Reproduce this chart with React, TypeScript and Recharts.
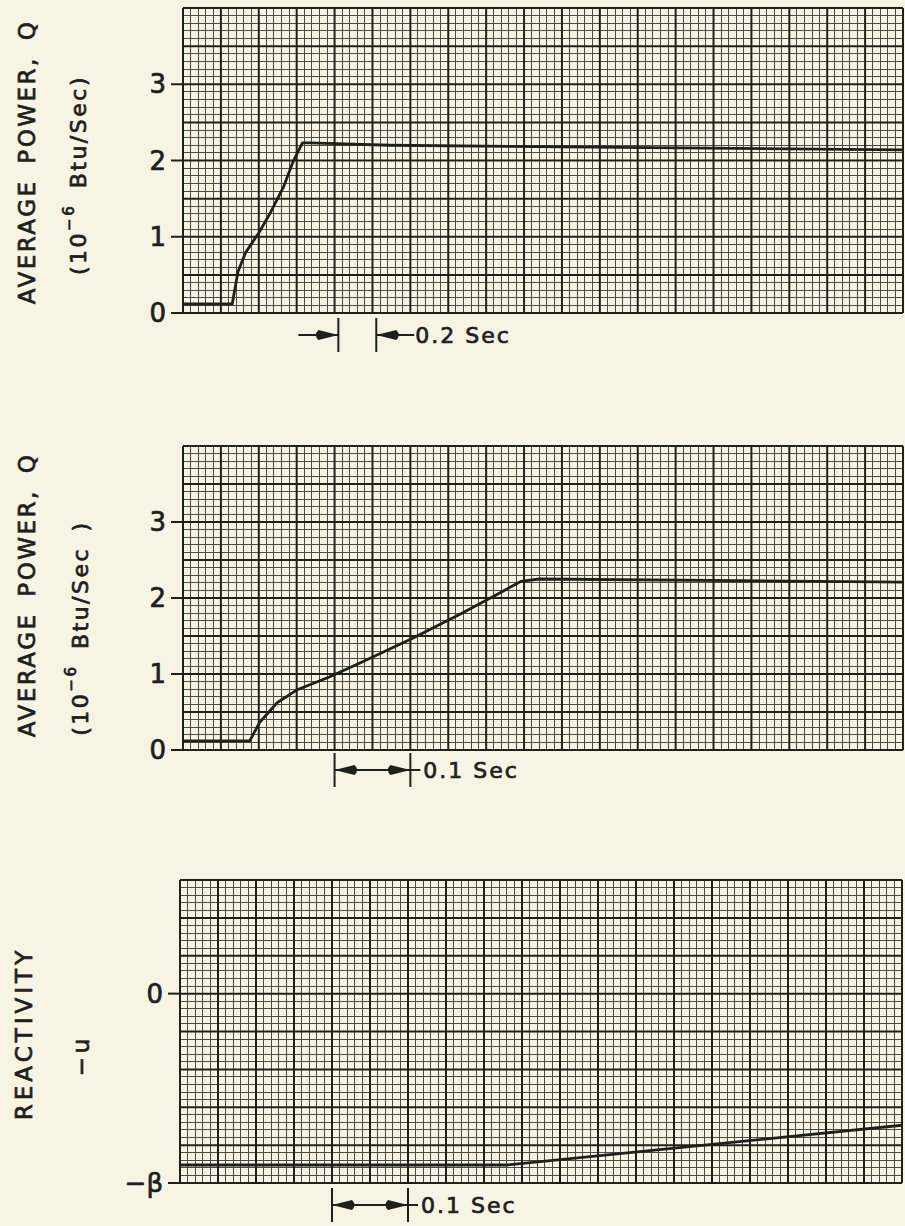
import React from 'react';
import { LineChart, Line, XAxis, YAxis, ReferenceLine, ReferenceArea } from 'recharts';

// top trace: 0.2 s per major division
const slowTime = [0, 0.26, 0.29, 0.33, 0.4, 0.46, 0.53, 0.58, 0.63, 0.67, 1.09, 2.0, 3.8];
const slowPower = [0.12, 0.12, 0.54, 0.79, 1.05, 1.31, 1.65, 1.98, 2.23, 2.23, 2.2, 2.18, 2.14];

// middle trace: 0.05 s per major division
const fastTime = [0, 0.088, 0.101, 0.124, 0.15, 0.193, 0.237, 0.303, 0.368, 0.413, 0.446, 0.47, 0.95];
const fastPower = [0.12, 0.12, 0.36, 0.62, 0.79, 0.96, 1.16, 1.47, 1.8, 2.04, 2.22, 2.25, 2.21];

// bottom trace: reactivity in units of beta
const reactTime = [0, 0.43, 0.95];
const reactValue = [-0.905, -0.905, -0.695];

const powerTicks = [0, 1, 2, 3];
const reactTicks = [-1, 0];
const slowMarker = [0.82, 1.02];
const fastMarker = [0.2, 0.3];

const PAPER = '#f7f4e3';
const INK = '#1e201b';
const MINOR = '#4a4c45';
const FONT = '"DejaVu Sans", sans-serif';
// lettering-pen look: thicken the glyphs a little
const PEN = { stroke: INK, strokeWidth: 0.7 };

const steps = (from: number, to: number, step: number) => {
  const out: number[] = [];
  const n = Math.round((to - from) / step);
  for (let i = 0; i <= n; i++) out.push(+(from + i * step).toFixed(4));
  return out;
};

const zip = (t: number[], v: number[]) => t.map((x, i) => ({ t: x, v: v[i] }));

function Head({ tip, cy, dir }: { tip: number; cy: number; dir: number }) {
  // dir = 1 points right, -1 points left
  const back = tip - dir * 20;
  return (
    <path
      d={`M${tip},${cy} L${back},${cy - 5} Q${back - dir * 5},${cy} ${back},${cy + 5} Z`}
      fill={INK}
    />
  );
}

function Bracket(props: any) {
  const { x, y, width, height, kind, text, offset } = props;
  const x1 = x;
  const x2 = x + width;
  const cy = y + height + offset;
  const half = 17;
  const common = { stroke: INK, strokeWidth: 2 };
  if (kind === 'outside') {
    return (
      <g>
        <line x1={x1 - 40} y1={cy} x2={x1} y2={cy} {...common} />
        <Head tip={x1} cy={cy} dir={1} />
        <line x1={x1} y1={cy - half} x2={x1} y2={cy + half} {...common} />
        <line x1={x2} y1={cy - half} x2={x2} y2={cy + half} {...common} />
        <line x1={x2} y1={cy} x2={x2 + 38} y2={cy} {...common} />
        <Head tip={x2} cy={cy} dir={-1} />
        <text x={x2 + 39} y={cy} dominantBaseline="central" fontSize={22} letterSpacing={2} fill={INK} fontFamily={FONT} {...PEN}>
          {text}
        </text>
      </g>
    );
  }
  return (
    <g>
      <line x1={x1} y1={cy - half} x2={x1} y2={cy + half} {...common} />
      <line x1={x2} y1={cy - half} x2={x2} y2={cy + half} {...common} />
      <line x1={x1} y1={cy} x2={x2 + 10} y2={cy} {...common} />
      <Head tip={x1} cy={cy} dir={-1} />
      <Head tip={x2} cy={cy} dir={1} />
      <text x={x2 + 13} y={cy} dominantBaseline="central" fontSize={22} letterSpacing={2} fill={INK} fontFamily={FONT} {...PEN}>
        {text}
      </text>
    </g>
  );
}

const rot = (x: number, y: number) => `rotate(-90, ${x}, ${y})`;

const powerTitle = (dy1: number, x2: number, dy2: number, tail: string) => (props: any) => {
  const vb = props.viewBox || { x: 0, y: 0, width: 0, height: 0 };
  const cy = vb.y + vb.height / 2;
  const ax = vb.x + 27;
  const ay = cy + dy1;
  const bx = vb.x + x2;
  const by = cy + dy2;
  return (
    <g fill={INK} fontFamily={FONT} {...PEN}>
      <text x={ax} y={ay} transform={rot(ax, ay)} textAnchor="middle" dominantBaseline="central"
        fontSize={23} letterSpacing={2.5} wordSpacing={6}>
        AVERAGE POWER, Q
      </text>
      <text x={bx} y={by} transform={rot(bx, by)} textAnchor="middle" dominantBaseline="central"
        fontSize={22} letterSpacing={2.5} wordSpacing={6}>
        (10<tspan dy={-9} fontSize={15}>−6</tspan>
        <tspan dy={9}>{tail}</tspan>
      </text>
    </g>
  );
};

const reactTitle = (props: any) => {
  const vb = props.viewBox || { x: 0, y: 0, width: 0, height: 0 };
  const cy = vb.y + vb.height / 2;
  const ax = vb.x + 24;
  const ay = cy + 2;
  const bx = vb.x + 81;
  const by = cy + 24;
  return (
    <g fill={INK} fontFamily={FONT} {...PEN}>
      <text x={ax} y={ay} transform={rot(ax, ay)} textAnchor="middle" dominantBaseline="central"
        fontSize={23} letterSpacing={4}>
        REACTIVITY
      </text>
      <text x={bx} y={by} transform={rot(bx, by)} textAnchor="middle" dominantBaseline="central"
        fontSize={23} letterSpacing={4}>
        −u
      </text>
    </g>
  );
};

interface PanelProps {
  data: { t: number; v: number }[];
  top: number;
  height: number;
  margin: { top: number; right: number; bottom: number; left: number };
  axisWidth: number;
  xMax: number;
  xMajor: number;
  yDomain: [number, number];
  yMajor: number;
  ticks: number[];
  tickFormatter?: (v: number) => string;
  title: (props: any) => React.ReactNode;
  marker: number[];
  markerKind: string;
  markerText: string;
  markerOffset: number;
}

function Panel(p: PanelProps) {
  const [y0, y1] = p.yDomain;
  const xMajorV = steps(0, p.xMax, p.xMajor);
  const yMajorV = steps(y0, y1, p.yMajor);
  const xMinorV = steps(0, p.xMax, p.xMajor / 5).filter((v) => !xMajorV.includes(v));
  const yMinorV = steps(y0, y1, p.yMajor / 5).filter((v) => !yMajorV.includes(v));
  return (
    <div style={{ position: 'absolute', left: 0, top: p.top }}>
      <LineChart width={905} height={p.height} data={p.data} margin={p.margin}>
        <XAxis dataKey="t" type="number" domain={[0, p.xMax]} allowDataOverflow hide />
        <YAxis
          type="number"
          domain={p.yDomain}
          allowDataOverflow
          ticks={p.ticks}
          interval={0}
          width={p.axisWidth}
          tickSize={12}
          tickMargin={5}
          tickFormatter={p.tickFormatter}
          axisLine={{ stroke: INK, strokeWidth: 2 }}
          tickLine={{ stroke: INK, strokeWidth: 2 }}
          tick={{ fill: INK, fontSize: 26, fontFamily: FONT, ...PEN }}
          label={p.title}
        />
        {xMinorV.map((v) => (
          <ReferenceLine key={`xm${v}`} x={v} stroke={MINOR} strokeWidth={1} shapeRendering="crispEdges" />
        ))}
        {yMinorV.map((v) => (
          <ReferenceLine key={`ym${v}`} y={v} stroke={MINOR} strokeWidth={1} shapeRendering="crispEdges" />
        ))}
        {xMajorV.map((v) => (
          <ReferenceLine key={`xM${v}`} x={v} stroke={INK} strokeWidth={2} />
        ))}
        {yMajorV.map((v) => (
          <ReferenceLine key={`yM${v}`} y={v} stroke={INK} strokeWidth={2} />
        ))}
        <ReferenceArea
          x1={p.marker[0]}
          x2={p.marker[1]}
          ifOverflow="visible"
          shape={(sp: any) => (
            <Bracket {...sp} kind={p.markerKind} text={p.markerText} offset={p.markerOffset} />
          )}
        />
        <Line
          type="linear"
          dataKey="v"
          stroke={INK}
          strokeWidth={2.8}
          dot={false}
          activeDot={false}
          isAnimationActive={false}
        />
      </LineChart>
    </div>
  );
}

export default function App() {
  return (
    <div
      style={{
        position: 'absolute',
        left: 0,
        top: 0,
        width: 905,
        height: 1226,
        overflow: 'hidden',
        background: PAPER,
        fontFamily: FONT,
      }}
    >
      <Panel
        data={zip(slowTime, slowPower)}
        top={0}
        height={370}
        margin={{ top: 8, right: 2, bottom: 57, left: 0 }}
        axisWidth={183}
        xMax={3.8}
        xMajor={0.2}
        yDomain={[0, 4]}
        yMajor={0.5}
        ticks={powerTicks}
        title={powerTitle(1.5, 78, 14.5, ' Btu/Sec)')}
        marker={slowMarker}
        markerKind="outside"
        markerText="0.2 Sec"
        markerOffset={22}
      />
      <Panel
        data={zip(fastTime, fastPower)}
        top={420}
        height={390}
        margin={{ top: 26, right: 2, bottom: 60, left: 0 }}
        axisWidth={183}
        xMax={0.95}
        xMajor={0.05}
        yDomain={[0, 4]}
        yMajor={0.5}
        ticks={powerTicks}
        title={powerTitle(-3, 80, 30, ' Btu/Sec )')}
        marker={fastMarker}
        markerKind="inside"
        markerText="0.1 Sec"
        markerOffset={20}
      />
      <Panel
        data={zip(reactTime, reactValue)}
        top={850}
        height={376}
        margin={{ top: 30, right: 3, bottom: 43, left: 0 }}
        axisWidth={180}
        xMax={0.95}
        xMajor={0.05}
        yDomain={[-1, 0.6]}
        yMajor={0.2}
        ticks={reactTicks}
        tickFormatter={(v: number) => (v === -1 ? '−β' : '0')}
        title={reactTitle}
        marker={fastMarker}
        markerKind="inside"
        markerText="0.1 Sec"
        markerOffset={22}
      />
    </div>
  );
}
